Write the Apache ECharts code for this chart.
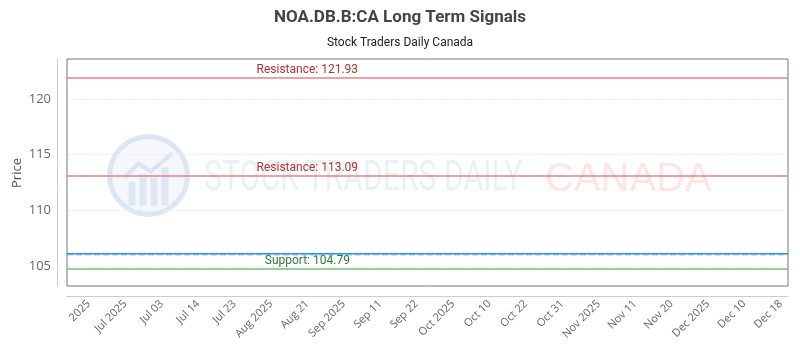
<!DOCTYPE html>
<html>
<head>
<meta charset="utf-8">
<script src="https://cdn.jsdelivr.net/npm/echarts@6/dist/echarts.min.js"></script>
<style>
  html, body { margin: 0; padding: 0; background: #fff; }
  #chart { width: 800px; height: 350px; }
</style>
</head>
<body>
<div id="chart"></div>
<script>
// x axis tick labels, one every 5 slots
const tickLabels = ['2025', 'Jul 2025', 'Jul 03', 'Jul 14', 'Jul 23', 'Aug 2025', 'Aug 21', 'Sep 2025', 'Sep 11', 'Sep 22',
    'Oct 2025', 'Oct 10', 'Oct 22', 'Oct 31', 'Nov 2025', 'Nov 11', 'Nov 20', 'Dec 2025', 'Dec 10', 'Dec 18'];
const slotCount = 100;
const firstLabelSlot = 3;
const labelStep = 5;

// signal levels
const resistanceLevels = [121.93, 113.09];
const supportLevels = [104.79];
const priceLevel = [106.1, 106.1];  // flat price line, start and end
const labelSlot = 33;

const xCats = [];
for (let i = 0; i < slotCount; i++) {
    const k = i - firstLabelSlot;
    xCats.push(k >= 0 && k % labelStep === 0 ? tickLabels[k / labelStep] : 'slot' + i);
}

const chartDom = document.getElementById('chart');
const myChart = echarts.init(chartDom, null, { renderer: 'canvas' });

const levelLine = (value, color) => ({
    yAxis: value,
    lineStyle: { color: color, width: 2, type: 'solid' },
    label: { show: false }
});
const levelLabel = (value, text, color) => ({
    coord: [labelSlot, value],
    symbol: 'rect',
    symbolSize: [1, 1],
    itemStyle: { color: 'rgba(0,0,0,0)' },
    label: {
        show: true,
        position: 'top',
        distance: 1,
        color: color,
        fontSize: 12,
        fontFamily: 'Roboto, sans-serif',
        formatter: text
    }
});

const option = {
    backgroundColor: '#fff',
    animation: false,
    title: {
        text: 'NOA.DB.B:CA Long Term Signals',
        subtext: 'Stock Traders Daily Canada',
        left: 'center',
        top: 4,
        itemGap: 11,
        textStyle: { fontSize: 17, fontWeight: 'bold', color: '#444', fontFamily: 'Roboto, sans-serif' },
        subtextStyle: { fontSize: 12, color: '#222', fontFamily: 'Roboto, sans-serif' }
    },
    graphic: [
        // y axis title
        {
            type: 'text',
            x: 17,
            y: 173,
            rotation: Math.PI / 2,
            silent: true,
            style: { text: 'Price', fontSize: 13, fill: '#555', fontFamily: '"Open Sans", sans-serif', align: 'center', verticalAlign: 'middle' }
        },
        {
            type: 'group',
            left: 107,
            top: 134,
            silent: true,
            z: 0,
            children: [
                { type: 'circle', shape: { cx: 42, cy: 42, r: 39 }, style: { fill: 'rgba(225,233,245,0.35)', stroke: 'rgba(200,215,235,0.6)', lineWidth: 5 } },
                { type: 'rect', shape: { x: 22, y: 48, width: 7, height: 24 }, style: { fill: 'rgba(200,215,235,0.5)' } },
                { type: 'rect', shape: { x: 33, y: 40, width: 7, height: 32 }, style: { fill: 'rgba(200,215,235,0.5)' } },
                { type: 'rect', shape: { x: 44, y: 44, width: 7, height: 28 }, style: { fill: 'rgba(200,215,235,0.5)' } },
                { type: 'rect', shape: { x: 55, y: 34, width: 7, height: 38 }, style: { fill: 'rgba(200,215,235,0.5)' } },
                { type: 'polyline', shape: { points: [[18, 44], [32, 30], [44, 38], [66, 20]] }, style: { stroke: 'rgba(200,215,235,0.6)', lineWidth: 4, fill: null } }
            ]
        },
        {
            type: 'text',
            left: 204,
            top: 158,
            silent: true,
            z: 0,
            scaleX: 0.72,
            style: { text: 'STOCK TRADERS DAILY', fontSize: 42, fontFamily: 'Roboto, sans-serif', fill: 'rgba(205,215,232,0.4)' }
        },
        {
            type: 'text',
            left: 545,
            top: 160,
            silent: true,
            z: 0,
            style: { text: 'CANADA', fontSize: 40, fontFamily: '"Liberation Sans", sans-serif', fill: 'rgba(250,190,190,0.4)' }
        }
    ],
    grid: {
        left: 67,
        right: 12,
        top: 59,
        bottom: 64,
        outerBoundsMode: 'none',
        show: true,
        borderColor: '#777',
        borderWidth: 1,
        backgroundColor: 'transparent',
        z: 5
    },
    xAxis: {
        type: 'category',
        data: xCats,
        boundaryGap: false,
        offset: 10,
        axisLine: { show: true, lineStyle: { color: '#ccc' } },
        axisTick: { show: false },
        splitLine: { show: false },
        axisLabel: {
            rotate: 45,
            margin: 6,
            fontSize: 11,
            color: '#666',
            fontFamily: '"Open Sans", sans-serif',
            interval: (idx) => idx >= firstLabelSlot && (idx - firstLabelSlot) % labelStep === 0,
            formatter: (v) => v.startsWith('slot') ? '' : v
        }
    },
    yAxis: {
        type: 'value',
        min: 103.2,
        max: 123.6,
        offset: 10,
        axisLine: { show: true, lineStyle: { color: '#ccc' } },
        axisTick: { show: false },
        axisLabel: {
            fontSize: 13,
            color: '#666',
            margin: 6,
            fontFamily: '"Open Sans", sans-serif',
            formatter: (v) => (Math.abs(v % 5) < 1e-6 ? String(v) : '')
        },
        splitLine: {
            show: true,
            lineStyle: { color: '#eee', type: 'dashed' },
            showMinLine: false,
            showMaxLine: false
        }
    },
    series: [
        {
            name: 'Price shadow',
            type: 'line',
            data: [[0, priceLevel[0] - 0.1], [slotCount - 1, priceLevel[1] - 0.1]],
            symbol: 'none',
            silent: true,
            lineStyle: { color: 'rgba(120,190,245,0.55)', width: 2, type: [6, 3] },
            z: 2
        },
        {
            name: 'Price',
            type: 'line',
            data: [[0, priceLevel[0]], [slotCount - 1, priceLevel[1]]],
            symbol: 'none',
            lineStyle: { color: '#2e8fe0', width: 1.5 },
            z: 3,
            markLine: {
                silent: true,
                symbol: 'none',
                data: [
                    ...resistanceLevels.map((v) => levelLine(v, 'rgba(235,120,120,0.7)')),
                    ...supportLevels.map((v) => levelLine(v, 'rgba(120,185,120,0.75)'))
                ]
            },
            markPoint: {
                silent: true,
                data: [
                    ...resistanceLevels.map((v) => levelLabel(v, 'Resistance: ' + v.toFixed(2), '#b53030')),
                    ...supportLevels.map((v) => levelLabel(v, 'Support: ' + v.toFixed(2), '#2e7d3a'))
                ]
            }
        }
    ]
};

myChart.setOption(option);
</script>
</body>
</html>
